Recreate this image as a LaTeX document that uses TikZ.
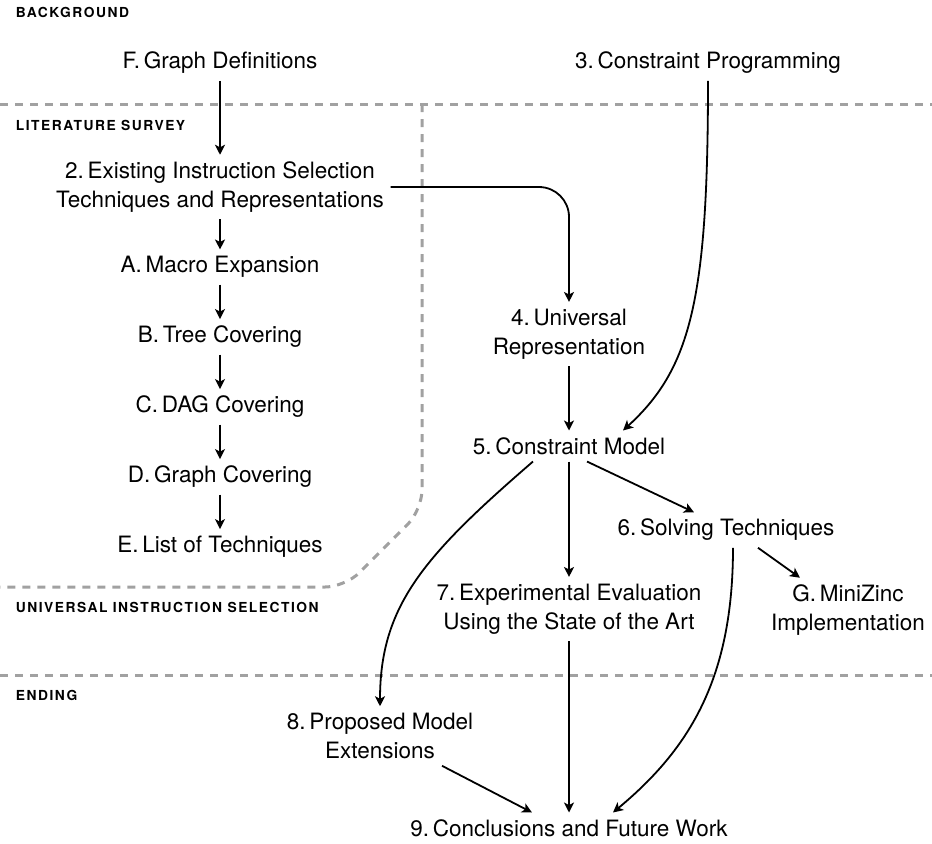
\documentclass[tikz,border=0pt]{standalone}
\usepackage{fontspec}
\setmainfont{TeX Gyre Heros}
\newfontfamily\partfont[LetterSpace=11]{TeX Gyre Heros}
\usetikzlibrary{arrows.meta,positioning}
\definecolor{partgray}{gray}{0.63}
\tikzset{
    every node/.style={font=\fontsize{11.25pt}{14.5pt}\selectfont},
    chapter/.style={align=center,inner sep=3pt},
    part label/.style={anchor=base west,inner sep=0pt,font=\partfont\bfseries\fontsize{6.9pt}{8pt}\selectfont},
    part line/.style={-,draw=partgray,line width=1.5pt,dash pattern=on 4pt off 3.5pt}
}

\begin{document}
\begin{tikzpicture}[x=0.5pt,y=-0.5pt,->,>={Stealth[length=5pt,width=5pt,inset=1.3pt]},line width=0.9pt,node distance=17.25pt]
    \useasboundingbox (0,0) rectangle (932,843);

    % parts of the thesis
    \draw[part line] (0,104) -- (932,104);
    \draw[part line,rounded corners=10pt] (422,104) -- (422,510) -- (345,587) -- (0,587);
    \draw[part line] (0,675) -- (932,675);
    \node[part label] (background) at (15,17) {BACKGROUND};
    \node[part label] (survey) at (15,130) {LITERATURE SURVEY};
    \node[part label] (universal) at (15,612) {UNIVERSAL INSTRUCTION SELECTION};
    \node[part label] (ending) at (15,700) {ENDING};

    % chapters and appendices
    \node[chapter] (F) at (220,63) {F.\,Graph Definitions};
    \node[chapter] (3) at (708,63) {3.\,Constraint Programming};
    \node[chapter] (2) at (220,187) {2.\,Existing Instruction Selection\\Techniques and Representations};
    \node[chapter] (A) at (220,267) {A.\,Macro Expansion};
    \node[chapter] (B) [below =of A] {B.\,Tree Covering};
    \node[chapter] (C) [below =of B] {C.\,DAG Covering};
    \node[chapter] (D) [below =of C] {D.\,Graph Covering};
    \node[chapter] (E) [below =of D] {E.\,List of Techniques};
    \node[chapter] (4) at (569,334) {4.\,Universal\\Representation};
    \node[chapter] (5) at (569,446) {5.\,Constraint Model};
    \node[chapter] (6) at (726,530) {6.\,Solving Techniques};
    \node[chapter] (7) at (569,609) {7.\,Experimental Evaluation\\Using the State of the Art};
    \node[chapter] (G) at (848,610) {G.\,MiniZinc\\Implementation};
    \node[chapter] (8) at (380,736) {8.\,Proposed Model\\Extensions};
    \node[chapter] (9) at (569,828) {9.\,Conclusions and Future Work};

    % reading order
    \draw (F) -- (2);
    \draw (2) -- (A);
    \draw (A) -- (B);
    \draw (B) -- (C);
    \draw (C) -- (D);
    \draw (D) -- (E);
    \draw[rounded corners=15pt] (2.east) -| (4.north);
    \draw (3.south) .. controls +(0,218) and +(68,-62) .. ([xshift=27pt]5.north);
    \draw (4) -- (5);
    \draw ([xshift=9pt]5.south) -- ([xshift=-16pt]6.north);
    \draw (5) -- (7);
    \draw ([xshift=-18pt]5.south) .. controls +(-110,95) and +(0,-100) .. (8.north);
    \draw ([xshift=16pt]6.south) -- ([xshift=-24pt]G.north);
    \draw ([xshift=3.5pt]6.south) .. controls +(0,130) and +(77,-64) .. ([xshift=22pt]9.north);
    \draw (7) -- (9);
    \draw ([xshift=31pt]8.south) -- ([xshift=-18.5pt]9.north);
\end{tikzpicture}
\end{document}
